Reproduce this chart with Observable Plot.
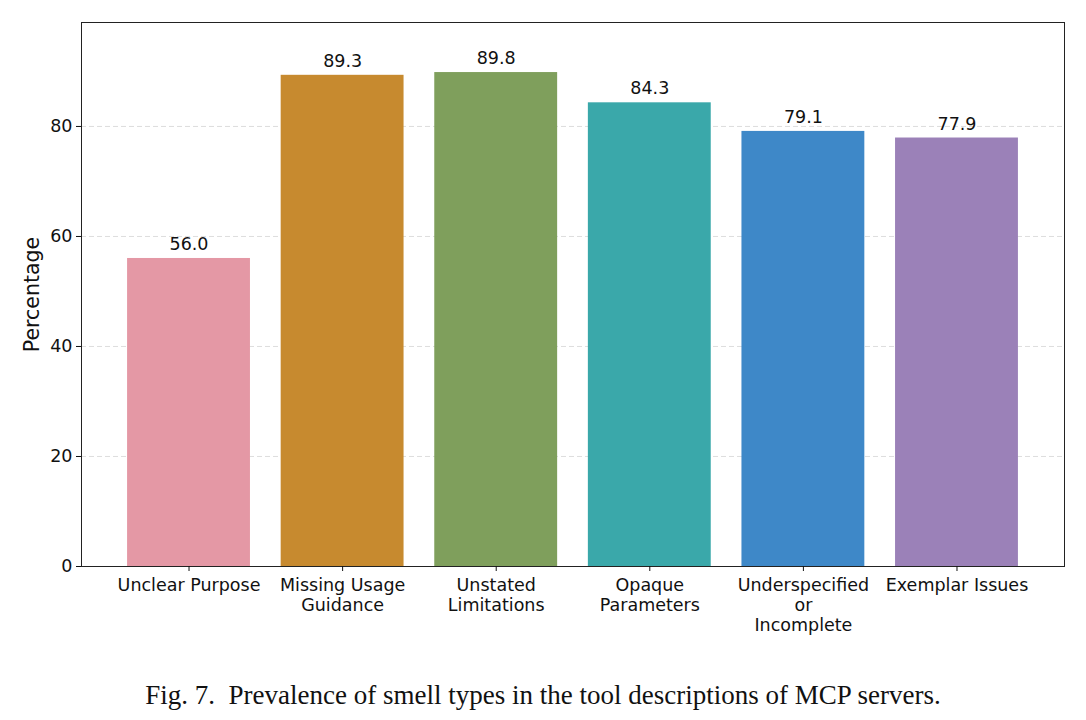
<!DOCTYPE html>
<html>
<head>
<meta charset="utf-8">
<script src="https://cdn.jsdelivr.net/npm/d3@7"></script>
<script src="https://cdn.jsdelivr.net/npm/@observablehq/plot@0.6"></script>
<style>
  body { margin: 0; background: #fff; }
  #chart { width: 1086px; }
  #caption { width: 1086px; text-align: center; font-family: "Liberation Serif", "DejaVu Serif", serif; font-size: 27px; color: #111; margin-top: 40px; }
</style>
</head>
<body>
<div id="chart"></div>
<div id="caption">Fig. 7.&nbsp; Prevalence of smell types in the tool descriptions of MCP servers.</div>
<script>
const categories = ["Unclear Purpose", "Missing Usage\nGuidance", "Unstated\nLimitations", "Opaque\nParameters", "Underspecified\nor\nIncomplete", "Exemplar Issues"];
const values = [56.0, 89.3, 89.8, 84.3, 79.1, 77.9];
const colors = ["#e498a5", "#c78a2f", "#7f9f5c", "#3aa8aa", "#3e88c8", "#9b81b8"];
const yTicks = [0, 20, 40, 60, 80];

const data = categories.map((c, i) => ({cat: c, value: values[i], color: colors[i]}));

const plot = Plot.plot({
  width: 1086,
  height: 640,
  marginLeft: 81,
  marginRight: 22,
  marginTop: 22,
  marginBottom: 74,
  style: {fontFamily: "DejaVu Sans", fontSize: "18px", color: "#111", background: "#fff"},
  x: {domain: categories, paddingInner: 0.2, paddingOuter: 0.3, round: false, label: null},
  y: {domain: [0, 98.9], label: null},
  marks: [
    Plot.ruleY([20, 40, 60, 80], {stroke: "#d4d4d4", strokeDasharray: "5,3", strokeWidth: 0.8}),
    Plot.barY(data, {x: "cat", y: "value", fill: "color"}),
    Plot.text(data, {x: "cat", y: "value", text: d => d.value.toFixed(1), dy: -14, fontSize: 17.5, fill: "#111"}),
    Plot.frame({stroke: "#222", strokeWidth: 1}),
    Plot.axisY({ticks: yTicks, tickSize: 5, tickPadding: 4, fontSize: 17.5, label: null}),
    Plot.axisX({tickSize: 5, tickPadding: 5, fontSize: 17.5, label: null, lineHeight: 1.15}),
    Plot.text(["Percentage"], {frameAnchor: "left", textAnchor: "middle", dx: -49, rotate: -90, fontSize: 20.5, fill: "#111"})
  ]
});
document.getElementById("chart").appendChild(plot);
</script>
</body>
</html>
